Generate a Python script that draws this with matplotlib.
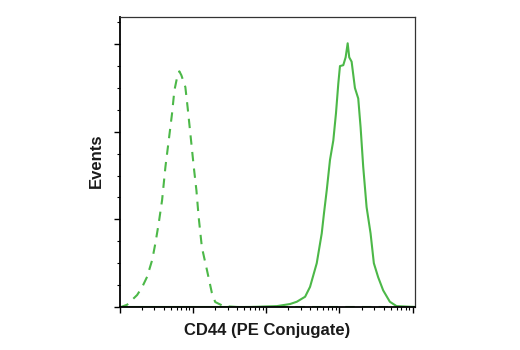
import numpy as np
import matplotlib.pyplot as plt
from matplotlib.ticker import LogLocator, MultipleLocator, NullFormatter

# isotype control (dashed) - PE intensity vs events
control_pe = [1.0, 1.05, 1.27, 1.74, 2.04, 2.38, 2.79, 3.09, 3.43, 3.81, 4.23, 4.69,
              5.21, 5.60, 6.10, 6.55, 6.98, 7.91, 8.49, 9.25, 10.3, 11.2, 12.0,
              13.3, 15.6, 18.2, 20.2, 26.2, 40.0, 10900.0]
control_events = [0, 0, 2.6, 13.7, 22.8, 34.5, 53.6, 73, 95.8, 122, 160, 190,
                  221, 247, 262, 269, 264.5, 251, 228, 198, 160, 133, 103,
                  68, 42, 16, 5.7, 1, 0, 0]

# CD44 stained cells (solid)
cd44_pe = [1.0, 60.6, 140, 212, 262, 340, 397, 490, 573, 615, 670, 743, 824,
           896, 964, 1016, 1127, 1214, 1294, 1359, 1465, 1625, 1803, 1942,
           2108, 2344, 2656, 2944, 3371, 3945, 4865, 6000, 10900.0]
cd44_events = [0, 0, 1, 3.4, 6, 11.7, 23, 50, 84, 107, 133, 168, 190,
               221, 255, 275, 276, 285, 301, 285, 280, 250, 238, 205,
               160, 114, 84, 50, 34, 19, 6, 1, 0]

green = '#4cb848'

fig = plt.figure(figsize=(5.2, 3.5), dpi=100)
ax = fig.add_axes([119.5 / 520, 43 / 350, 296 / 520, 290 / 350])

ax.plot(control_pe, control_events, color=green, lw=1.5, ls=(0, (4.5, 3.5)))
ax.plot(cd44_pe, cd44_events, color=green, lw=1.5)

ax.set_xscale('log')
ax.set_xlim(1, 10 ** 4.037)
ax.set_ylim(0, 331)

ax.xaxis.set_major_locator(LogLocator(base=10, numticks=10))
ax.xaxis.set_minor_locator(LogLocator(base=10, subs=np.arange(2, 10), numticks=10))
ax.xaxis.set_major_formatter(NullFormatter())
ax.xaxis.set_minor_formatter(NullFormatter())
ax.yaxis.set_major_locator(MultipleLocator(100))
ax.yaxis.set_minor_locator(MultipleLocator(25))
ax.yaxis.set_major_formatter(NullFormatter())

ax.tick_params(which='major', direction='out', length=4, width=1, color='black')
ax.tick_params(which='minor', direction='out', length=2.5, width=0.8, color='black')
ax.tick_params(top=False, right=False)

for side in ['left', 'bottom']:
    ax.spines[side].set_linewidth(1.3)
    ax.spines[side].set_color('black')
for side in ['top', 'right']:
    ax.spines[side].set_linewidth(0.9)
    ax.spines[side].set_color('#333333')

font = ['Liberation Sans', 'DejaVu Sans']
fig.text(267 / 520, 1 - 330 / 350, 'CD44 (PE Conjugate)', ha='center', va='center',
         fontsize=12, fontweight='bold', family=font, color='#1a1a1a')
fig.text(96 / 520, 1 - 161 / 350, 'Events', ha='center', va='center', rotation=90,
         fontsize=12, fontweight='bold', family=font, color='#1a1a1a')

fig.savefig('out.png', dpi=100)
